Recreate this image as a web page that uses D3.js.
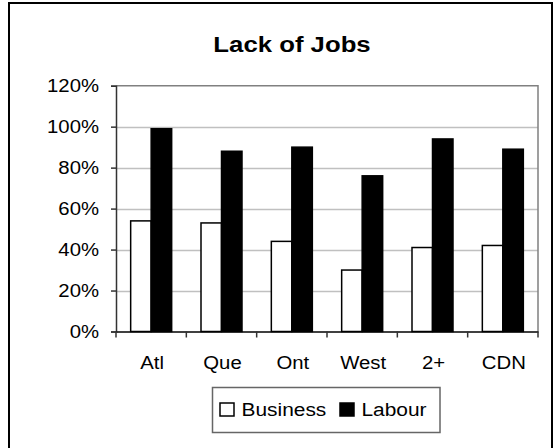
<!DOCTYPE html>
<html>
<head>
<meta charset="utf-8">
<script src="https://cdn.jsdelivr.net/npm/d3@7"></script>
<style>
  html, body { margin: 0; padding: 0; background: #fff; }
  svg { display: block; }
  text { font-family: "Liberation Sans", Arial, sans-serif; fill: #000; }
</style>
</head>
<body>
<script>
// ---- data ----
const categories = ["Atl", "Que", "Ont", "West", "2+", "CDN"];
const seriesNames = ["Business", "Labour"];
const business = [54, 53, 44, 30, 41, 42];
const labour = [99, 88, 90, 76, 94, 89];
const yTicks = [0, 20, 40, 60, 80, 100, 120];
const title = "Lack of Jobs";

const W = 557, H = 448;
const svg = d3.select("body").append("svg").attr("width", W).attr("height", H);

// outer chart border
svg.append("rect").attr("x", 9).attr("y", 3).attr("width", 543).attr("height", 470)
  .attr("fill", "#fff").attr("stroke", "#000").attr("stroke-width", 2);

const plot = { left: 116, right: 538, top: 85.7, bottom: 331.5 };

const x = d3.scaleBand().domain(categories).range([plot.left, plot.right]).padding(0);
const groupW = 41;
const x1 = d3.scaleBand().domain(seriesNames).range([0, groupW]).padding(0);
const y = d3.scaleLinear().domain([0, 120]).range([plot.bottom, plot.top]);

function stretchedText(g, tx, ty, str, size, anchor, weight, sx) {
  return g.append("text")
    .attr("transform", `translate(${tx},${ty}) scale(${sx},1)`)
    .attr("text-anchor", anchor)
    .attr("font-size", size)
    .attr("font-weight", weight || "normal")
    .text(str);
}

// gridlines
svg.append("g").selectAll("line").data(yTicks.filter(t => t > 0 && t < 120)).join("line")
  .attr("x1", plot.left).attr("x2", plot.right)
  .attr("y1", d => Math.round(y(d)) + 0.5).attr("y2", d => Math.round(y(d)) + 0.5)
  .attr("stroke", "#c0c0c0").attr("stroke-width", 1.5);

// top and right plot border (gray)
svg.append("path")
  .attr("d", `M${plot.left},${y(120)}H${plot.right}V${plot.bottom}`)
  .attr("fill", "none").attr("stroke", "#808080").attr("stroke-width", 1.5);

// bars
const data = categories.map((c, i) => ({ cat: c, vals: [business[i], labour[i]] }));
const groups = svg.append("g").selectAll("g").data(data).join("g")
  .attr("transform", d => `translate(${x(d.cat) + (x.bandwidth() - groupW) / 2},0)`);
groups.selectAll("rect").data(d => d.vals.map((v, j) => ({ s: seriesNames[j], v }))).join("rect")
  .attr("x", d => x1(d.s))
  .attr("width", x1.bandwidth())
  .attr("y", d => y(d.v))
  .attr("height", d => y(0) - y(d.v))
  .attr("fill", d => d.s === "Business" ? "#fff" : "#000")
  .attr("stroke", "#000").attr("stroke-width", 1.5);

// y axis
const yAxis = d3.axisLeft(y).tickValues(yTicks).tickSize(5).tickFormat("");
const yg = svg.append("g").attr("transform", `translate(${plot.left},0)`).call(yAxis);
yg.select(".domain").attr("stroke", "#333").attr("stroke-width", 1.5);
yg.selectAll(".tick line").attr("stroke", "#333").attr("stroke-width", 1.5);
yTicks.forEach(t => stretchedText(svg, 99, y(t) + 6.3, t + "%", 18, "end", "normal", 1.13));

// x axis
const xAxis = d3.axisBottom(x).tickValues([]).tickSizeOuter(0);
const xg = svg.append("g").attr("transform", `translate(0,${plot.bottom})`).call(xAxis);
xg.select(".domain").attr("stroke", "#000").attr("stroke-width", 1.5);
const bounds = categories.map(c => x(c)).concat([plot.right]);
xg.selectAll("line.b").data(bounds).join("line").attr("class", "b")
  .attr("x1", d => d).attr("x2", d => d).attr("y1", 0).attr("y2", 6)
  .attr("stroke", "#333").attr("stroke-width", 1.5);
categories.forEach(c => stretchedText(svg, x(c) + x.bandwidth() / 2 + 1, 369, c, 18, "middle", "normal", 1.13));

// title
stretchedText(svg, 292, 51.7, title, 22, "middle", "bold", 1.17);

// legend
const lg = svg.append("g");
lg.append("rect").attr("x", 212.5).attr("y", 387.5).attr("width", 227.5).attr("height", 45)
  .attr("fill", "#fff").attr("stroke", "#666").attr("stroke-width", 1.5);
const legendItems = [
  { name: seriesNames[0], fill: "#fff", sx: 220, tx: 241.5 },
  { name: seriesNames[1], fill: "#000", sx: 340, tx: 361.5 }
];
legendItems.forEach(it => {
  lg.append("rect").attr("x", it.sx).attr("y", 403).attr("width", 14).attr("height", 13)
    .attr("fill", it.fill).attr("stroke", "#000").attr("stroke-width", 1.5);
  stretchedText(lg, it.tx, 415.5, it.name, 19, "start", "normal", 1.1);
});
</script>
</body>
</html>
